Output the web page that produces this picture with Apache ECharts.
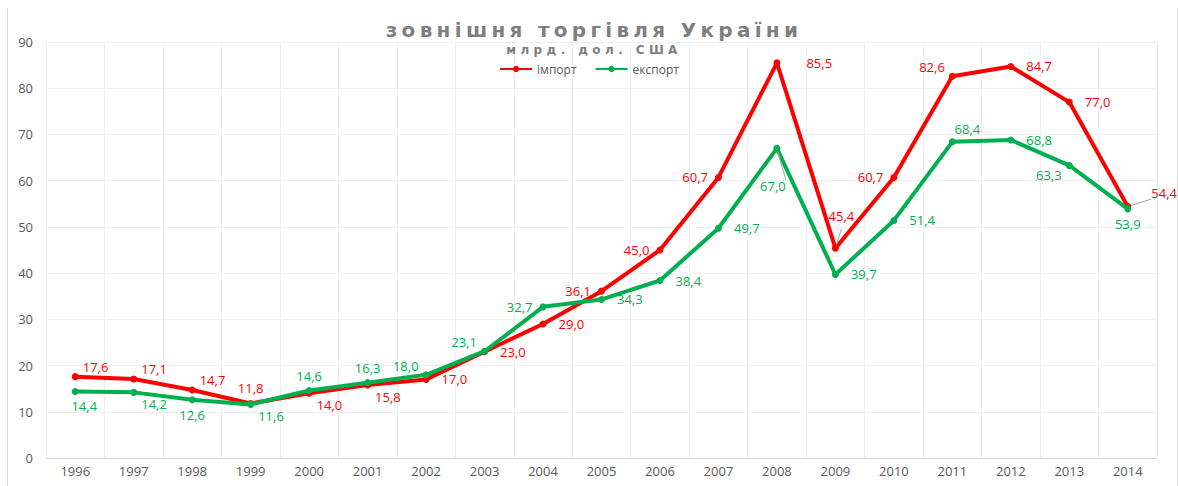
<!DOCTYPE html>
<html>
<head>
<meta charset="utf-8">
<script src="https://cdn.jsdelivr.net/npm/echarts@6/dist/echarts.min.js"></script>
<style>
  html, body { margin: 0; padding: 0; background: #fff; }
  #chart { width: 1178px; height: 486px; }
</style>
</head>
<body>
<div id="chart"></div>
<script>
const years = ['1996', '1997', '1998', '1999', '2000', '2001', '2002', '2003', '2004', '2005',
  '2006', '2007', '2008', '2009', '2010', '2011', '2012', '2013', '2014']
const importValues = [17.6, 17.1, 14.7, 11.8, 14.0, 15.8, 17.0, 23.0, 29.0, 36.1,
  45.0, 60.7, 85.5, 45.4, 60.7, 82.6, 84.7, 77.0, 54.4]
const exportValues = [14.4, 14.2, 12.6, 11.6, 14.6, 16.3, 18.0, 23.1, 32.7, 34.3,
  38.4, 49.7, 67.0, 39.7, 51.4, 68.4, 68.8, 63.3, 53.9]

const titleText = 'зовнішня торгівля України'
const subtitleText = 'млрд. дол. США'

// where each data label sits relative to its point
const importLabelPos = ['tr', 'tr', 'tr', 't', 'br', 'br', 'r', 'r', 'r', 'l',
  'l', 'l', 'rf', 'up', 'l', 'tl', 'r', 'r', 'tru']
const exportLabelPos = ['bs', 'br', 'b', 'br', 't', 't', 'tl', 'tl', 'l', 'r',
  'r', 'r', 'dn', 'r', 'r', 'ts', 'r', 'bl', 'b']

const RED = '#ff0000'
const GREEN = '#00b050'
const GREY = '#595959'
const FONT = '"Open Sans", "Noto Sans", sans-serif'
const TITLE_FONT = '"DejaVu Sans", sans-serif'

const labelStyles = {
  t: { position: 'top', distance: 5 },
  b: { position: 'bottom', distance: 5 },
  l: { position: 'left', distance: 7 },
  r: { position: 'right', distance: 12 },
  tr: { position: 'right', distance: 4, offset: [0, -10] },
  tl: { position: 'left', distance: 4, offset: [0, -9] },
  br: { position: 'right', distance: 4, offset: [0, 12] },
  bl: { position: 'left', distance: 4, offset: [0, 10] },
  rf: { position: 'right', distance: 26 },
  up: { position: 'top', distance: 22, offset: [6, 0] },
  dn: { position: 'bottom', distance: 28, offset: [-4, 0] },
  tru: { position: 'right', distance: 20, offset: [0, -14] },
  ts: { position: 'top', distance: 3, offset: [15, 0] },
  bs: { position: 'bottom', distance: 5, offset: [9, 0] }
}
const leaderCodes = ['up', 'dn', 'tru']

function pointData(values, positions) {
  return values.map((v, i) => {
    const item = { value: v, label: labelStyles[positions[i]] }
    if (leaderCodes.includes(positions[i])) {
      item.labelLine = { show: true, lineStyle: { color: '#a6a6a6', width: 1 } }
    }
    return item
  })
}

function lineSeries(name, values, positions, color, z) {
  return {
    name,
    type: 'line',
    data: pointData(values, positions),
    symbol: 'circle',
    symbolSize: 7,
    lineStyle: { width: 4, color },
    itemStyle: { color },
    label: {
      show: true,
      color,
      fontFamily: FONT,
      fontSize: 13,
      formatter: p => p.value.toFixed(1).replace('.', ',')
    },
    emphasis: { disabled: true },
    z
  }
}

const chart = echarts.init(document.getElementById('chart'), null, { renderer: 'svg' })
chart.setOption({
  animation: false,
  backgroundColor: '#fff',
  legend: {
    top: 58,
    left: 'center',
    itemWidth: 32,
    itemHeight: 8,
    itemGap: 18,
    textStyle: { color: GREY, fontSize: 12, fontFamily: FONT },
    data: ['імпорт', 'експорт']
  },
  grid: { left: 46, right: 21, top: 42, bottom: 28, containLabel: false },
  xAxis: {
    type: 'category',
    data: years,
    boundaryGap: true,
    axisLine: { lineStyle: { color: '#d9d9d9', width: 1 } },
    axisTick: { show: false },
    axisLabel: { color: GREY, fontSize: 13, fontFamily: FONT, margin: 6 },
    splitLine: { show: true, interval: 0, lineStyle: { color: '#efefef' } }
  },
  yAxis: {
    type: 'value',
    min: 0,
    max: 90,
    interval: 10,
    axisLine: { show: false },
    axisTick: { show: false },
    axisLabel: { color: GREY, fontSize: 13, fontFamily: FONT, margin: 13 },
    splitLine: { lineStyle: { color: '#efefef' } }
  },
  graphic: [
    { type: 'line', shape: { x1: 7.5, y1: 8, x2: 7.5, y2: 486 }, style: { stroke: '#d9d9d9', lineWidth: 1 } },
    { type: 'line', shape: { x1: 1177.5, y1: 8, x2: 1177.5, y2: 486 }, style: { stroke: '#d9d9d9', lineWidth: 1 } },
    {
      type: 'text', x: 594, y: 30, z: 10,
      style: { text: titleText, fill: '#7f7f7f', font: 'bold 20px ' + TITLE_FONT, textAlign: 'center', textVerticalAlign: 'middle' }
    },
    {
      type: 'text', x: 594, y: 50, z: 10,
      style: { text: subtitleText, fill: '#7f7f7f', font: 'bold 12px ' + TITLE_FONT, textAlign: 'center', textVerticalAlign: 'middle' }
    }
  ],
  series: [
    lineSeries('імпорт', importValues, importLabelPos, RED, 2),
    lineSeries('експорт', exportValues, exportLabelPos, GREEN, 3)
  ]
})

// the heading is letter-spaced in the original chart
function spaceHeadings() {
  document.querySelectorAll('#chart text').forEach(t => {
    if (t.textContent === titleText) t.style.letterSpacing = '4.3px'
    if (t.textContent === subtitleText) t.style.letterSpacing = '4.4px'
  })
}
spaceHeadings()
chart.on('finished', spaceHeadings)
</script>
</body>
</html>
